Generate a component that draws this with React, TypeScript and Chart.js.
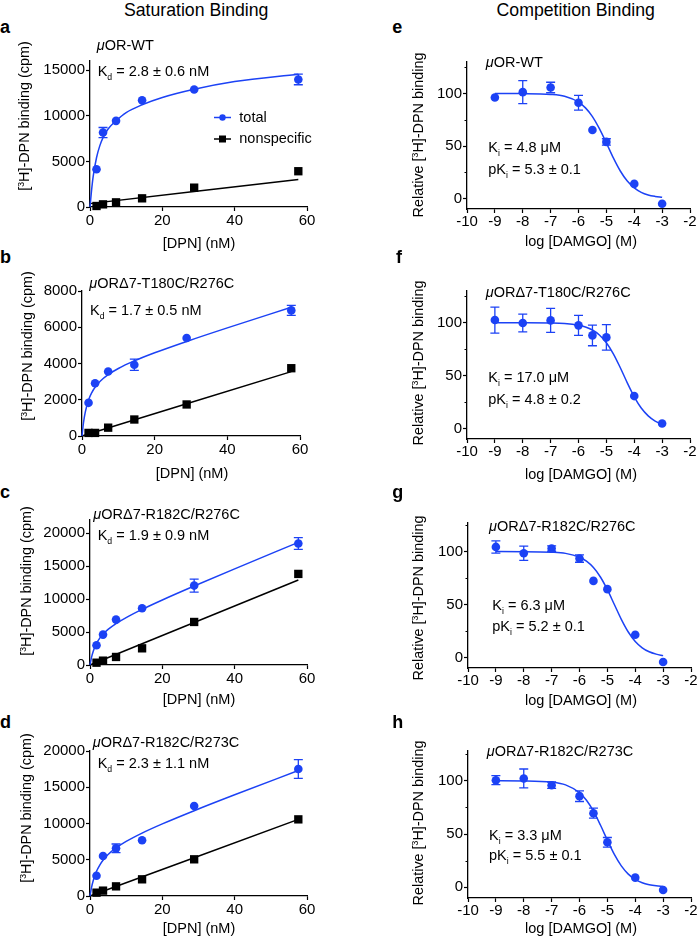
import React, { useEffect, useRef } from 'react';
import { Chart, registerables } from 'chart.js';

Chart.register(...registerables);

const FONT = "'Liberation Sans', Arial, Helvetica, sans-serif";
const BLUE = 'rgb(28, 66, 245)';
const BLACK = '#000000';

// ---------------- data ----------------
// Saturation binding: [DPN] (nM)
const dpnConc = [1.8, 3.6, 7.2, 14.4, 28.8, 57.6];
const satFitConc = [0, 0.4, 0.9, 1.8, 2.7, 3.6, 5, 7.2, 10, 14.4, 20, 28.8, 40, 57.6];
const nsFitConc = [0, 57.6];
const satXTicks = [0, 20, 40, 60];

// a: muOR-WT
const aTotal = [4130, 8160, 9440, 11700, 12880, 13980];
const aTotalErr = [0, 550, 0, 0, 0, 580];
const aNonspec = [110, 290, 510, 950, 2120, 3920];
const aTotalFit = [0, 1700, 3400, 5400, 6700, 7600, 8550, 9450, 10350, 11200, 12000, 12900, 13750, 14560];
const aNonspecFit = [370, 3020];
const aYTicks = [0, 5000, 10000, 15000];

// b: muORd7-T180C/R276C
const bTotal = [1830, 2910, 3560, 3930, 5410, 6930];
const bTotalErr = [0, 0, 0, 310, 0, 280];
const bNonspec = [170, 170, 460, 910, 1740, 3740];
const bTotalFit = [0, 717, 1314, 1981, 2397, 2691, 3022, 3386, 3726, 4143, 4589, 5217, 5966, 7101];
const bNonspecFit = [0, 3550];
const bYTicks = [0, 2000, 4000, 6000, 8000];

// c: muORd7-R182C/R276C
const cTotal = [2990, 4610, 6890, 8610, 12050, 18430];
const cTotalErr = [0, 0, 0, 0, 980, 900];
const cNonspec = [350, 660, 1220, 2530, 6530, 13820];
const cTotalFit = [0, 1116, 2098, 3273, 4068, 4668, 5395, 6281, 7198, 8438, 9868, 11986, 14592, 18613];
const cNonspecFit = [0, 12900];
const cYTicks = [0, 5000, 10000, 15000, 20000];

// d: muORd7-R182C/R273C
const dTotal = [2800, 5520, 6570, 7680, 12410, 17520];
const dTotalErr = [0, 0, 600, 0, 0, 1290];
const dNonspec = [460, 740, 1330, 2300, 5060, 10570];
const dTotalFit = [0, 1110, 2134, 3403, 4275, 4932, 5713, 6626, 7526, 8678, 9948, 11767, 13959, 17301];
const dNonspecFit = [0, 10570];
const dYTicks = [0, 5000, 10000, 15000, 20000];

// Competition binding: log [DAMGO] (M)
const logDamgo = [-9, -8, -7, -6, -5.5, -5, -4, -3];
const compFitLog = [-9, -8, -7, -6.5, -6, -5.75, -5.5, -5.25, -5, -4.75, -4.5, -4.25, -4, -3.75, -3.5, -3.25, -3];
const compXTicks = [-10, -9, -8, -7, -6, -5, -4, -3, -2];
const compYTicks = [0, 50, 100];
const compYMinor = [25, 75, 125];

const eBinding = [96.2, 101.3, 105.7, 91.2, 65.3, 53.9, 13.9, -5.0];
const eErr = [0, 11, 5, 7, 0, 3, 0, 0];
const eFit = [100, 99.9, 99.1, 97.3, 91.8, 86.3, 78.0, 66.6, 52.9, 38.7, 26.2, 16.6, 10.1, 5.9, 3.4, 2.0, 1.1];

const fBinding = [102.5, 99.7, 102.2, 97.5, 88.0, 86.1, 30.6, 4.7];
const fErr = [12.3, 8.4, 11.4, 9.5, 9.8, 12, 0, 0];
const fFit = [100, 99.98, 99.8, 99.3, 97.7, 96.0, 93.1, 88.4, 81.0, 70.6, 57.4, 43.1, 29.9, 19.3, 11.9, 7.0, 4.1];

const gBinding = [104.4, 98.4, 102.8, 93.4, 72.3, 64.5, 21.4, -4.4];
const gErr = [5.8, 6.8, 2.5, 3.5, 0, 0, 0, 0];
const gFit = [100, 99.95, 99.4, 98.3, 94.7, 90.9, 84.9, 76.0, 64.0, 50.0, 36.0, 24.0, 15.1, 9.1, 5.3, 3.1, 1.7];

const hBinding = [100.6, 102.2, 95.9, 85.6, 69.6, 42.3, 9.1, -2.5];
const hErr = [4.2, 8.9, 3, 5, 4.7, 4.5, 0, 0];
const hFit = [100, 99.9, 98.8, 96.2, 88.8, 81.7, 71.5, 58.5, 44.3, 30.9, 20.1, 12.4, 7.4, 4.3, 2.5, 1.4, 0.8];

// ---------------- layout ----------------
const YW = 70;
const PT = 12;
const PR = 16;
const XH = 34;

type Series = {
  xs: number[];
  ys: number[];
  errs?: number[];
  color: string;
  kind: 'circle' | 'square' | 'line';
};

type LegendItem = { x: number; y: number; color: string; kind: 'circle' | 'square' };

type Panel = {
  id: string;
  L: number; R: number; T: number; B: number;
  xMin: number; xMax: number; xTicks: number[]; xPad: number;
  yMin: number; yMax: number; yTicks: number[]; yMinor?: number[];
  series: Series[];
  legend?: LegendItem[];
};

const satSeries = (tot: number[], err: number[], ns: number[], totFit: number[], nsFit: number[]): Series[] => [
  { xs: dpnConc, ys: tot, errs: err, color: BLUE, kind: 'circle' },
  { xs: dpnConc, ys: ns, color: BLACK, kind: 'square' },
  { xs: satFitConc, ys: totFit, color: BLUE, kind: 'line' },
  { xs: nsFitConc, ys: nsFit, color: BLACK, kind: 'line' },
];

const compSeries = (vals: number[], err: number[], fit: number[]): Series[] => [
  { xs: logDamgo, ys: vals, errs: err, color: BLUE, kind: 'circle' },
  { xs: compFitLog, ys: fit, color: BLUE, kind: 'line' },
];

const panels: Panel[] = [
  { id: 'a', L: 90, R: 307, T: 61, B: 207, xMin: 0, xMax: 60, xTicks: satXTicks, xPad: 1, yMin: 0, yMax: 16000, yTicks: aYTicks,
    series: satSeries(aTotal, aTotalErr, aNonspec, aTotalFit, aNonspecFit),
    legend: [ { x: 222.5, y: 117.5, color: BLUE, kind: 'circle' }, { x: 222.5, y: 139, color: BLACK, kind: 'square' } ] },
  { id: 'b', L: 82, R: 300, T: 291, B: 436, xMin: 0, xMax: 60, xTicks: satXTicks, xPad: 1, yMin: 0, yMax: 8000, yTicks: bYTicks,
    series: satSeries(bTotal, bTotalErr, bNonspec, bTotalFit, bNonspecFit) },
  { id: 'c', L: 90, R: 307, T: 520, B: 665, xMin: 0, xMax: 60, xTicks: satXTicks, xPad: 1, yMin: 0, yMax: 22000, yTicks: cYTicks,
    series: satSeries(cTotal, cTotalErr, cNonspec, cTotalFit, cNonspecFit) },
  { id: 'd', L: 90, R: 307, T: 751, B: 896, xMin: 0, xMax: 60, xTicks: satXTicks, xPad: 1, yMin: 0, yMax: 20000, yTicks: dYTicks,
    series: satSeries(dTotal, dTotalErr, dNonspec, dTotalFit, dNonspecFit) },
  { id: 'e', L: 467, R: 690, T: 62, B: 209, xMin: -10, xMax: -2, xTicks: compXTicks, xPad: 0, yMin: -10, yMax: 130, yTicks: compYTicks, yMinor: compYMinor,
    series: compSeries(eBinding, eErr, eFit) },
  { id: 'f', L: 467, R: 690, T: 291, B: 439, xMin: -10, xMax: -2, xTicks: compXTicks, xPad: 0, yMin: -10, yMax: 130, yTicks: compYTicks, yMinor: compYMinor,
    series: compSeries(fBinding, fErr, fFit) },
  { id: 'g', L: 468, R: 691, T: 523, B: 668, xMin: -10, xMax: -2, xTicks: compXTicks, xPad: 0, yMin: -10, yMax: 127, yTicks: compYTicks, yMinor: compYMinor,
    series: compSeries(gBinding, gErr, gFit) },
  { id: 'h', L: 468, R: 691, T: 751, B: 898, xMin: -10, xMax: -2, xTicks: compXTicks, xPad: 0, yMin: -10, yMax: 128, yTicks: compYTicks, yMinor: compYMinor,
    series: compSeries(hBinding, hErr, hFit) },
];

function buildConfig(p: Panel) {
  const offX = p.L - YW;
  const offY = p.T - PT;

  const datasets = p.series.map((s) => {
    const data = s.xs.map((x, i) => ({ x, y: s.ys[i] }));
    if (s.kind === 'line') {
      return {
        type: 'line', data, borderColor: s.color, backgroundColor: s.color, borderWidth: 1.5,
        pointRadius: 0, pointHoverRadius: 0, cubicInterpolationMode: 'monotone', fill: false, order: 2, clip: false,
      };
    }
    return {
      type: 'scatter', data, showLine: false,
      pointStyle: s.kind === 'circle' ? 'circle' : 'rect',
      pointRadius: s.kind === 'circle' ? 4.3 : 5.9,
      pointHoverRadius: s.kind === 'circle' ? 4.3 : 5.9,
      backgroundColor: s.color, borderColor: s.color, pointBorderWidth: 0, borderWidth: 0,
      order: 1, clip: false, errorBars: s.errs,
    };
  });

  const errorBarPlugin = {
    id: 'errorBars' + p.id,
    afterDatasetsDraw(chart: any) {
      const ctx = chart.ctx;
      const ys = chart.scales.y;
      chart.data.datasets.forEach((ds: any, i: number) => {
        if (!ds.errorBars) return;
        const meta = chart.getDatasetMeta(i);
        meta.data.forEach((el: any, j: number) => {
          const e = ds.errorBars[j];
          if (!e) return;
          const v = ds.data[j].y;
          const x = el.x;
          const yTop = ys.getPixelForValue(v + e);
          const yBot = ys.getPixelForValue(v - e);
          ctx.save();
          ctx.strokeStyle = ds.borderColor;
          ctx.lineWidth = 1.3;
          ctx.beginPath();
          ctx.moveTo(x, yTop); ctx.lineTo(x, yBot);
          ctx.moveTo(x - 4.5, yTop); ctx.lineTo(x + 4.5, yTop);
          ctx.moveTo(x - 4.5, yBot); ctx.lineTo(x + 4.5, yBot);
          ctx.stroke();
          ctx.restore();
        });
      });
    },
  };

  const extrasPlugin = {
    id: 'extras' + p.id,
    afterDraw(chart: any) {
      const ctx = chart.ctx;
      const area = chart.chartArea;
      ctx.save();
      if (p.yMinor) {
        ctx.strokeStyle = '#000';
        ctx.lineWidth = 1;
        ctx.beginPath();
        p.yMinor.forEach((v) => {
          const y = Math.round(chart.scales.y.getPixelForValue(v)) + 0.5;
          ctx.moveTo(area.left - 2.5, y);
          ctx.lineTo(area.left, y);
        });
        ctx.stroke();
      }
      if (p.legend) {
        p.legend.forEach((it) => {
          const cx = it.x - offX;
          const cy = it.y - offY;
          ctx.strokeStyle = it.color;
          ctx.fillStyle = it.color;
          ctx.lineWidth = 1.5;
          ctx.beginPath();
          ctx.moveTo(cx - 8.5, cy);
          ctx.lineTo(cx + 8.5, cy);
          ctx.stroke();
          ctx.beginPath();
          if (it.kind === 'circle') {
            ctx.arc(cx, cy, 3.2, 0, Math.PI * 2);
          } else {
            ctx.rect(cx - 3.5, cy - 3.5, 7, 7);
          }
          ctx.fill();
        });
      }
      ctx.restore();
    },
  };

  const tickFont = { family: FONT, size: 15 };
  const grid = { display: true, drawOnChartArea: false, drawTicks: true, tickLength: 4, tickColor: '#000', tickWidth: 1.2 };
  const border = { display: true, color: '#000', width: 1.3 };

  return {
    type: 'scatter',
    data: { datasets },
    options: {
      animation: false,
      responsive: false,
      maintainAspectRatio: false,
      events: [],
      layout: { padding: { left: 0, top: PT, right: PR, bottom: 0 } },
      plugins: { legend: { display: false }, tooltip: { enabled: false } },
      scales: {
        x: {
          type: 'linear', min: p.xMin, max: p.xMax,
          afterBuildTicks: (s: any) => { s.ticks = p.xTicks.map((v) => ({ value: v })); },
          afterFit: (s: any) => { s.height = XH; },
          grid, border,
          ticks: { color: '#000', font: tickFont, padding: p.xPad, maxRotation: 0, autoSkip: false, callback: (v: any) => String(v) },
        },
        y: {
          type: 'linear', min: p.yMin, max: p.yMax,
          afterBuildTicks: (s: any) => { s.ticks = p.yTicks.map((v) => ({ value: v })); },
          afterFit: (s: any) => { s.width = YW; },
          grid, border,
          ticks: { color: '#000', font: tickFont, padding: 1, autoSkip: false, callback: (v: any) => String(v) },
        },
      },
    },
    plugins: [errorBarPlugin, extrasPlugin],
  };
}

function PanelChart({ p }: { p: Panel }) {
  const ref = useRef<HTMLCanvasElement>(null);
  const w = p.R - p.L + YW + PR;
  const h = p.B - p.T + PT + XH;
  useEffect(() => {
    const chart = new Chart(ref.current as HTMLCanvasElement, buildConfig(p) as any);
    return () => chart.destroy();
  }, []);
  return (
    <canvas
      ref={ref}
      width={w}
      height={h}
      style={{ position: 'absolute', left: p.L - YW, top: p.T - PT, width: w, height: h }}
    />
  );
}

// ---------------- text ----------------
type TxtProps = { x: number; b: number; fs?: number; center?: boolean; bold?: boolean; children: React.ReactNode };
const Txt = ({ x, b, fs = 14.5, center, bold, children }: TxtProps) => (
  <div
    style={{
      position: 'absolute', left: x, top: b - 0.8465 * fs, fontSize: fs, lineHeight: `${fs}px`,
      fontFamily: FONT, fontWeight: bold ? 700 : 400, whiteSpace: 'nowrap', color: '#000',
      transform: center ? 'translateX(-50%)' : undefined,
    }}
  >
    {children}
  </div>
);

const VTxt = ({ cx, cy, fs = 14.4, children }: { cx: number; cy: number; fs?: number; children: React.ReactNode }) => (
  <div
    style={{
      position: 'absolute', left: cx, top: cy, fontSize: fs, lineHeight: `${fs}px`, fontFamily: FONT,
      whiteSpace: 'nowrap', color: '#000', transform: 'translate(-50%, -50%) rotate(-90deg)',
    }}
  >
    {children}
  </div>
);

const Sub = ({ children }: { children: React.ReactNode }) => (
  <span style={{ fontSize: '0.6em', position: 'relative', top: '0.45em' }}>{children}</span>
);
const Sup = ({ children }: { children: React.ReactNode }) => (
  <span style={{ fontSize: '0.6em', position: 'relative', top: '-0.6em' }}>{children}</span>
);
const Mu = () => <i>μ</i>;

const satYTitle = <>[<Sup>3</Sup>H]-DPN binding (cpm)</>;
const compYTitle = <>Relative [<Sup>3</Sup>H]-DPN binding</>;

export default function App() {
  return (
    <div style={{ position: 'absolute', left: 0, top: 0, width: 698, height: 943, background: '#fff', overflow: 'hidden' }}>
      {panels.map((p) => <PanelChart key={p.id} p={p} />)}

      {/* headers */}
      <Txt x={196.2} b={16.7} fs={17.7} center>Saturation Binding</Txt>
      <Txt x={575.7} b={16.7} fs={17.7} center>Competition Binding</Txt>

      {/* panel letters */}
      <Txt x={0} b={33.3} fs={18} bold>a</Txt>
      <Txt x={0} b={263.3} fs={18} bold>b</Txt>
      <Txt x={0} b={498.3} fs={18} bold>c</Txt>
      <Txt x={0} b={728.7} fs={18} bold>d</Txt>
      <Txt x={392.3} b={33.3} fs={18} bold>e</Txt>
      <Txt x={396} b={263.3} fs={18} bold>f</Txt>
      <Txt x={392.3} b={498.3} fs={18} bold>g</Txt>
      <Txt x={392.3} b={728.3} fs={18} bold>h</Txt>

      {/* saturation annotations */}
      <Txt x={96.7} b={50.7}><Mu />OR-WT</Txt>
      <Txt x={97.7} b={76}>K<Sub>d</Sub> = 2.8 ± 0.6 nM</Txt>
      <Txt x={239.3} b={122}>total</Txt>
      <Txt x={239.3} b={143.5}>nonspecific</Txt>

      <Txt x={89.3} b={288.3}><Mu />ORΔ7-T180C/R276C</Txt>
      <Txt x={90} b={315}>K<Sub>d</Sub> = 1.7 ± 0.5 nM</Txt>

      <Txt x={93.3} b={519}><Mu />ORΔ7-R182C/R276C</Txt>
      <Txt x={97.7} b={540}>K<Sub>d</Sub> = 1.9 ± 0.9 nM</Txt>

      <Txt x={92.7} b={747.7}><Mu />ORΔ7-R182C/R273C</Txt>
      <Txt x={97.7} b={768.3}>K<Sub>d</Sub> = 2.3 ± 1.1 nM</Txt>

      {/* competition annotations */}
      <Txt x={485.7} b={67.3}><Mu />OR-WT</Txt>
      <Txt x={488.3} b={152.7}>K<Sub>i</Sub> = 4.8  μM</Txt>
      <Txt x={488.3} b={174.3}>pK<Sub>i</Sub> = 5.3 ± 0.1</Txt>

      <Txt x={485.7} b={297.3}><Mu />ORΔ7-T180C/R276C</Txt>
      <Txt x={488.3} b={382.7}>K<Sub>i</Sub> = 17.0 μM</Txt>
      <Txt x={488.3} b={404.3}>pK<Sub>i</Sub> = 4.8 ± 0.2</Txt>

      <Txt x={489} b={531}><Mu />ORΔ7-R182C/R276C</Txt>
      <Txt x={492.3} b={610.7}>K<Sub>i</Sub> = 6.3  μM</Txt>
      <Txt x={492.3} b={631.7}>pK<Sub>i</Sub> = 5.2 ± 0.1</Txt>

      <Txt x={486.7} b={756.7}><Mu />ORΔ7-R182C/R273C</Txt>
      <Txt x={489} b={840}>K<Sub>i</Sub> = 3.3  μM</Txt>
      <Txt x={489} b={860}>pK<Sub>i</Sub> = 5.5 ± 0.1</Txt>

      {/* x-axis titles */}
      <Txt x={199} b={248} center>[DPN] (nM)</Txt>
      <Txt x={192} b={478.3} center>[DPN] (nM)</Txt>
      <Txt x={199} b={704.5} center>[DPN] (nM)</Txt>
      <Txt x={199} b={933.5} center>[DPN] (nM)</Txt>
      <Txt x={581} b={246.5} center>log [DAMGO] (M)</Txt>
      <Txt x={581} b={479} center>log [DAMGO] (M)</Txt>
      <Txt x={581} b={705.5} center>log [DAMGO] (M)</Txt>
      <Txt x={581} b={933.5} center>log [DAMGO] (M)</Txt>

      {/* y-axis titles */}
      <VTxt cx={25.3} cy={116}>{satYTitle}</VTxt>
      <VTxt cx={27.5} cy={345.7}>{satYTitle}</VTxt>
      <VTxt cx={27} cy={580.8}>{satYTitle}</VTxt>
      <VTxt cx={27} cy={808.3}>{satYTitle}</VTxt>
      <VTxt cx={419.3} cy={134.5}>{compYTitle}</VTxt>
      <VTxt cx={419.3} cy={363.3}>{compYTitle}</VTxt>
      <VTxt cx={419.3} cy={598}>{compYTitle}</VTxt>
      <VTxt cx={419.3} cy={823.3}>{compYTitle}</VTxt>
    </div>
  );
}
